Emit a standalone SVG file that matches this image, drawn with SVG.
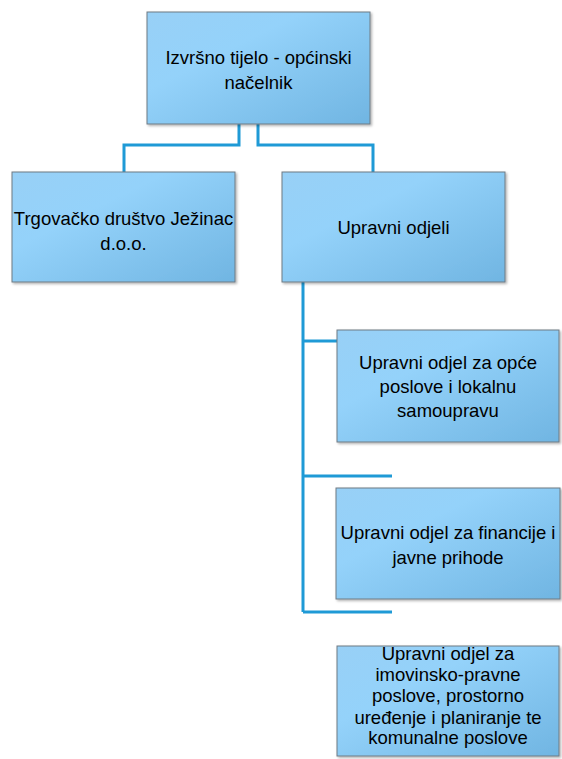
<svg xmlns="http://www.w3.org/2000/svg" width="562" height="759" viewBox="0 0 562 759">
<defs>
<linearGradient id="g" x1="0" y1="0" x2="1" y2="1">
<stop offset="0" stop-color="#98d0f6"/>
<stop offset="0.35" stop-color="#94d2fa"/>
<stop offset="1" stop-color="#70b5e2"/>
</linearGradient>
<filter id="sh" x="-5%" y="-5%" width="115%" height="115%">
<feDropShadow dx="1.5" dy="1.5" stdDeviation="1.2" flood-color="#000" flood-opacity="0.3"/>
</filter>
</defs>
<style>
.box{fill:url(#g);stroke:#6f7a83;stroke-width:1;filter:url(#sh)}
.t{font-family:"Liberation Sans",Arial,sans-serif;font-size:18.5px;fill:#000;text-anchor:middle}
.c{fill:none;stroke:#1f9ad6;stroke-width:3}
</style>
<rect width="562" height="759" fill="#fff"/>
<g id="connectors">
<path class="c" d="M239,124 V145 H124 V172"/>
<path class="c" d="M258,124 V145 H373 V172"/>
<path class="c" d="M303,282 V612"/>
<path class="c" d="M303,341 H337"/>
<path class="c" d="M303,476 H392"/>
<path class="c" d="M303,612 H392"/>
</g>
<g id="n1">
<rect class="box" x="147" y="12" width="223" height="112"/>
<text class="t" x="258.5" y="64">Izvršno tijelo - općinski</text>
<text class="t" x="258.5" y="89">načelnik</text>
</g>
<g id="n2">
<rect class="box" x="12" y="172" width="223" height="110"/>
<text class="t" x="123.5" y="225">Trgovačko društvo Ježinac</text>
<text class="t" x="123.5" y="250">d.o.o.</text>
</g>
<g id="n3">
<rect class="box" x="282" y="172" width="223" height="110"/>
<text class="t" x="393.5" y="234">Upravni odjeli</text>
</g>
<g id="n4">
<rect class="box" x="337" y="330" width="222" height="112"/>
<text class="t" x="448" y="369">Upravni odjel za opće</text>
<text class="t" x="448" y="393">poslove i lokalnu</text>
<text class="t" x="448" y="417">samoupravu</text>
</g>
<g id="n5">
<rect class="box" x="336" y="488" width="224" height="111"/>
<text class="t" x="448" y="539">Upravni odjel za financije i</text>
<text class="t" x="448" y="564">javne prihode</text>
</g>
<g id="n6">
<rect class="box" x="337" y="646" width="222" height="110"/>
<text class="t" x="448" y="660">Upravni odjel za</text>
<text class="t" x="448" y="681">imovinsko-pravne</text>
<text class="t" x="448" y="702">poslove, prostorno</text>
<text class="t" x="448" y="724">uređenje i planiranje te</text>
<text class="t" x="448" y="744">komunalne poslove</text>
</g>
</svg>
